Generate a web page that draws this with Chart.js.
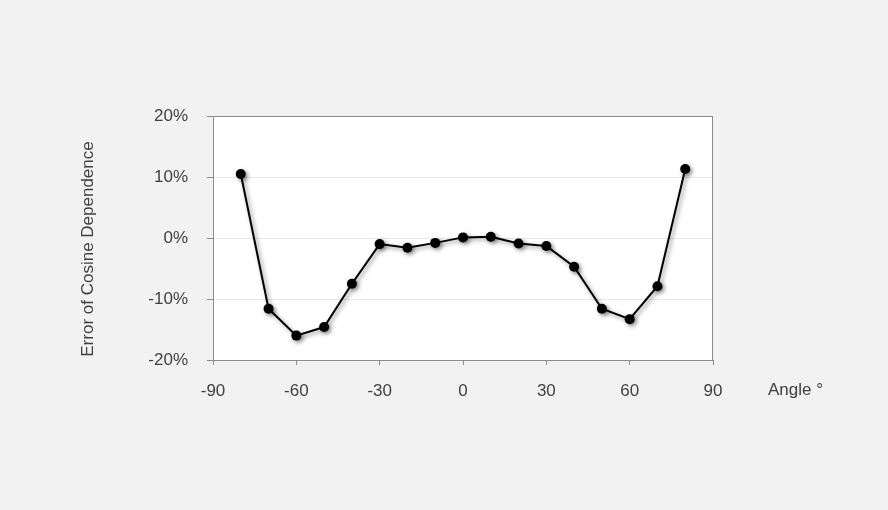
<!DOCTYPE html>
<html>
<head>
<meta charset="utf-8">
<script src="https://cdn.jsdelivr.net/npm/chart.js@4"></script>
<style>
  html, body { margin: 0; padding: 0; background: #f2f2f2; }
  #wrap { width: 888px; height: 510px; }
</style>
</head>
<body>
<div id="wrap"><canvas id="c" width="888" height="510"></canvas></div>
<script>
const ANGLES = [-80, -70, -60, -50, -40, -30, -20, -10, 0, 10, 20, 30, 40, 50, 60, 70, 80]
const ERRORS = [10.5, -11.6, -16.0, -14.6, -7.5, -1.0, -1.6, -0.8, 0.1, 0.2, -0.9, -1.3, -4.7, -11.6, -13.3, -7.9, 11.3]
const Y_TITLE = "Error of Cosine Dependence"
const X_TITLE = "Angle °"

const FONT = "'Liberation Sans', Arial, sans-serif"
const TXT = "#404040"

// white plot area, frame, axis titles and a soft shadow under the line
const decor = {
    id: "decor",
    beforeDraw(chart) {
        let a = chart.chartArea, ctx = chart.ctx
        ctx.save()
        ctx.fillStyle = "#ffffff"
        ctx.fillRect(a.left, a.top, a.right - a.left, a.bottom - a.top)
        ctx.restore()
    },
    beforeDatasetsDraw(chart) {
        let ctx = chart.ctx
        ctx.save()
        ctx.shadowColor = "rgba(0,0,0,0.45)"
        ctx.shadowBlur = 4
        ctx.shadowOffsetX = 2
        ctx.shadowOffsetY = 2
    },
    afterDatasetsDraw(chart) {
        chart.ctx.restore()
    },
    afterDraw(chart) {
        let a = chart.chartArea, ctx = chart.ctx
        ctx.save()
        ctx.strokeStyle = "#8c8c8c"
        ctx.lineWidth = 1
        ctx.strokeRect(a.left + 0.5, a.top + 0.5, a.right - a.left - 1, a.bottom - a.top)
        ctx.fillStyle = TXT
        ctx.font = "17px " + FONT
        ctx.textBaseline = "middle"
        ctx.textAlign = "left"
        ctx.fillText(X_TITLE, 768, 390)
        ctx.translate(88, 249)
        ctx.rotate(-Math.PI / 2)
        ctx.textAlign = "center"
        ctx.fillText(Y_TITLE, 0, 0)
        ctx.restore()
    }
}

new Chart(document.getElementById("c"), {
    type: "line",
    data: {
        labels: ANGLES,
        datasets: [{
            data: ANGLES.map((a, i) => ({ x: a, y: ERRORS[i] })),
            borderColor: "#000000",
            borderWidth: 2,
            backgroundColor: "#000000",
            pointRadius: 5,
            pointBorderWidth: 0,
            tension: 0
        }]
    },
    options: {
        responsive: false,
        animation: false,
        layout: { padding: { left: 0, right: 175, top: 116, bottom: 100 } },
        plugins: { legend: { display: false }, tooltip: { enabled: false } },
        scales: {
            x: {
                type: "linear",
                min: -90, max: 90,
                afterFit(s) { s.height = 50 },
                ticks: { stepSize: 30, color: TXT, font: { family: FONT, size: 17 }, padding: 16 },
                grid: { drawOnChartArea: false, tickLength: 5, color: "#8c8c8c" },
                border: { color: "#8c8c8c" }
            },
            y: {
                min: -20, max: 20,
                afterFit(s) { s.width = 213 },
                ticks: { stepSize: 10, color: TXT, font: { family: FONT, size: 17 }, padding: 19,
                    callback: v => v + "%" },
                grid: { color: "#e8e8e8", tickColor: "#8c8c8c", tickLength: 6 },
                border: { color: "#8c8c8c" }
            }
        }
    },
    plugins: [decor]
})
</script>
</body>
</html>
